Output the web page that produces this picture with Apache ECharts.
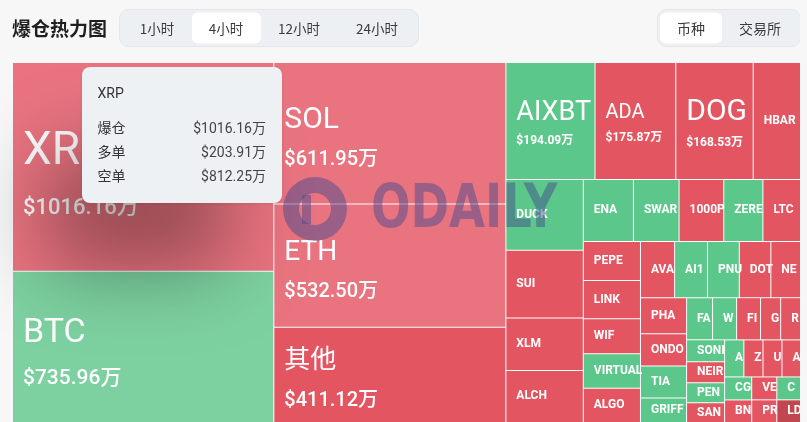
<!DOCTYPE html>
<html>
<head>
<meta charset="utf-8">
<script src="https://cdn.jsdelivr.net/npm/echarts@6/dist/echarts.min.js"></script>
<style>
html,body{margin:0;padding:0;background:#f7f7f7;width:807px;height:422px;overflow:hidden}
#c{position:absolute;left:0;top:0;width:800px;height:422px}
</style>
</head>
<body>
<div id="c"></div>
<script>
// ---- data ----
const coins = ['XRP','BTC','SOL','ETH','其他','AIXBT','ADA','DOGE','HBAR','DUCK','SUI','XLM','ALCH','ENA','SWARMS','1000PEPE','ZEREBRO','LTC','PEPE','LINK','WIF','VIRTUAL','ALGO','AVAX','AI16Z','PNUT','DOT','NEAR','PHA','ONDO','TIA','GRIFFAIN','FARTCOIN','WLD','FIL','GALA','RSR','SONIC','NEIRO','PENGU','SAND','ARC','ZRO','UNI','AAVE','CGPT','BNB','VET','PRAI','COOKIE','LDO'];
const amounts = [1016.16,735.96,611.95,532.50,411.12,194.09,175.87,168.53,103,102,98,75.5,75,58,52.8,51.7,45.3,43.5,41.6,40.6,37.4,36.6,36.5,35.7,34.4,33.2,33.0,31.0,30.9,27.7,27.5,21.1,20.4,18.9,18.8,15.8,15.6,15.5,14.9,14.2,13.9,13.3,13.2,13.1,12.8,11.6,11.4,10.7,10.6,10.1,10.0];
// dominant side: S = 空单 dominant (red), L = 多单 dominant (green)
const sides = ['S','L','S','S','S','L','S','S','S','L','S','S','S','L','L','S','L','S','S','S','S','L','S','S','L','L','S','S','S','S','L','L','L','L','S','S','S','L','S','L','S','L','S','S','S','L','S','S','S','L','S'];
const tipCoins = ['XRP'];
const tipLongs = [203.91];
const tipShorts = [812.25];
const rangeTabs = ['1小时','4小时','12小时','24小时'];
const groupTabs = ['币种','交易所'];
const pageTitle = '爆仓热力图';

// ---- styles ----
const FONT = 'Roboto, "Noto Sans CJK SC", sans-serif';
const CJK = '"Noto Sans CJK SC", sans-serif';
const RED = '#e45562', GREEN = '#5cc78a';
const LIGHT_RED = '#e97480', LIGHT_GREEN = '#7dd1a0', DARK_RED = '#c2464f';
const lightSet = ['XRP','BTC','SOL','ETH'];
const darkSet = ['LDO'];
// [nameSize, valueSize, nameLineH, valueLineH, valueWeight]
const bigLabel = {
  'XRP':  [46, 22, 84, 29, 500],
  'BTC':  [34, 21, 64, 27, 500],
  'SOL':  [30, 20, 53, 26, 500],
  'ETH':  [28, 20, 52, 26, 500],
  '其他': [26, 20, 52, 26, 500],
  'AIXBT':[27, 12, 40, 16, 'bold'],
  'ADA':  [20, 12, 34, 16, 'bold'],
  'DOGE': [30, 12, 45, 16, 'bold']
};
const PAD_R = -4, PAD_L = 10;

function colorOf(i) {
  const n = coins[i];
  if (darkSet.includes(n)) return DARK_RED;
  const light = lightSet.includes(n);
  if (sides[i] === 'L') return light ? LIGHT_GREEN : GREEN;
  return light ? LIGHT_RED : RED;
}

const treeData = coins.map((n, i) => {
  const item = { name: n, value: amounts[i], itemStyle: { color: colorOf(i) } };
  const b = bigLabel[n];
  if (b) {
    item.label = {
      padding: [0, PAD_R, 0, PAD_L],
      formatter: '{n|' + n + '}\n{v|$' + amounts[i].toFixed(2) + '万}',
      rich: {
        n: { fontSize: b[0], lineHeight: b[2], fontWeight: 400, color: '#fff', fontFamily: FONT },
        v: { fontSize: b[1], lineHeight: b[3], fontWeight: b[4], color: '#fff', fontFamily: FONT }
      }
    };
  }
  return item;
});

// header graphics
const graphics = [];
graphics.push({ type: 'text', z: 10, style: { x: 12, y: 29, text: pageTitle, font: 'bold 19px ' + CJK, fill: '#1f1f1f', verticalAlign: 'middle' } });
graphics.push({ type: 'rect', z: 10, shape: { x: 119.5, y: 9.5, width: 299, height: 37, r: 9 }, style: { fill: '#edf0f3', stroke: '#e3e6ea', lineWidth: 1 } });
graphics.push({ type: 'rect', z: 10, shape: { x: 192, y: 12.5, width: 69, height: 31, r: 6 }, style: { fill: '#ffffff' } });
const rangeX = [157, 226, 299, 377];
rangeTabs.forEach((t, i) => graphics.push({ type: 'text', z: 11, style: { x: rangeX[i], y: 28.5, text: t, font: '13.5px ' + CJK, fill: '#3a3a3a', align: 'center', verticalAlign: 'middle' } }));
graphics.push({ type: 'rect', z: 10, shape: { x: 657.5, y: 9.5, width: 143, height: 37, r: 9 }, style: { fill: '#edf0f3', stroke: '#e3e6ea', lineWidth: 1 } });
graphics.push({ type: 'rect', z: 10, shape: { x: 660, y: 12.5, width: 62, height: 31, r: 6 }, style: { fill: '#ffffff' } });
const groupX = [691, 760];
groupTabs.forEach((t, i) => graphics.push({ type: 'text', z: 11, style: { x: groupX[i], y: 28.5, text: t, font: '14px ' + CJK, fill: '#3a3a3a', align: 'center', verticalAlign: 'middle' } }));
// watermark
const WM = 'rgba(66,73,142,0.48)';
graphics.push({ type: 'ring', z: 100, silent: true, shape: { cx: 315, cy: 209, r: 32, r0: 16 }, style: { fill: WM } });
graphics.push({ type: 'rect', z: 100, silent: true, shape: { x: 302, y: 195, width: 9, height: 29 }, style: { fill: WM } });
graphics.push({ type: 'text', z: 100, silent: true, x: 371, y: 211, scaleX: 0.86, style: { x: 0, y: 0, text: 'ODAILY', font: 'bold 60px "DejaVu Sans Condensed", sans-serif', fill: WM, verticalAlign: 'middle' } });

const chart = echarts.init(document.getElementById('c'));
const option = {
  animation: false,
  backgroundColor: 'transparent',
  graphic: graphics,
  tooltip: {
    trigger: 'item',
    triggerOn: 'none',
    alwaysShowContent: true,
    showDelay: 0,
    hideDelay: 0,
    transitionDuration: 0,
    position: [82, 67],
    backgroundColor: '#eef1f4',
    borderWidth: 0,
    padding: [14, 16, 15, 15.5],
    textStyle: { color: '#333', fontSize: 14, fontFamily: FONT },
    extraCssText: 'width:200px;box-sizing:border-box;border-radius:8px;box-shadow:-45px 75px 80px -10px rgba(0,0,0,0.36), 0 1px 4px rgba(0,0,0,0.08);',
    formatter: function (p) {
      const k = tipCoins.indexOf(p.name);
      const row = (a, v) => '<div style="display:flex;justify-content:space-between;height:24px;line-height:24px"><span style="color:#333">' + a + '</span><span style="color:#444">$' + v.toFixed(2) + '万</span></div>';
      let html = '<div style="height:24px;line-height:24px;color:#333">' + p.name + '</div><div style="height:11px"></div>';
      html += row('爆仓', p.value);
      if (k >= 0) { html += row('多单', tipLongs[k]) + row('空单', tipShorts[k]); }
      return html;
    }
  },
  series: [{
    type: 'treemap',
    left: 13, top: 63, right: 0, bottom: 0,
    roam: false,
    nodeClick: false,
    breadcrumb: { show: false },
    itemStyle: { borderWidth: 0, gapWidth: 1, borderColor: '#ffffff' },
    label: {
      show: true, position: 'insideLeft', distance: 0, padding: [0, PAD_R, 0, PAD_L],
      color: '#fff', fontSize: 12, fontWeight: 'bold', fontFamily: FONT,
      overflow: 'truncate', ellipsis: ''
    },
    upperLabel: { show: false },
    data: treeData
  }]
};
chart.setOption(option);

// vertically centre the two-line labels inside their cells, using the layout computed by the treemap
try {
  const sData = chart.getModel().getSeriesByIndex(0).getData();
  for (let idx = 0; idx < sData.count(); idx++) {
    const name = sData.getName(idx);
    const b = bigLabel[name];
    if (!b) continue;
    const lay = sData.getItemLayout(idx);
    if (!lay) continue;
    const pad = Math.max(0, (lay.height - b[2] - b[3]) / 2);
    treeData[coins.indexOf(name)].label.padding = [pad, PAD_R, 0, PAD_L];
  }
  chart.setOption({ series: [{ data: treeData }] });
} catch (e) { console.log(e); }

function tip() { chart.dispatchAction({ type: 'showTip', x: 200, y: 240 }); }
tip();
setTimeout(tip, 30);
</script>
</body>
</html>
